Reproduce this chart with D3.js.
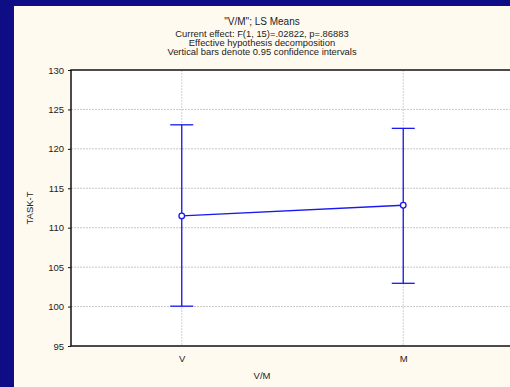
<!DOCTYPE html>
<html>
<head>
<meta charset="utf-8">
<title>V/M LS Means</title>
<script src="https://d3js.org/d3.v7.min.js"></script>
<style>
  body { margin: 0; background: #0f0d86; }
  text { font-family: Arial, "Liberation Sans", sans-serif; fill: #222; }
</style>
</head>
<body>
<svg id="chart" width="510" height="387"></svg>
<script>
// data
var categories = ["V", "M"];
var means = [111.5, 112.85];
var ciLow = [100.05, 102.95];
var ciHigh = [123.05, 122.6];
var yTicks = [95, 100, 105, 110, 115, 120, 125, 130];
var titleLines = [
  "\"V/M\"; LS Means",
  "Current effect: F(1, 15)=.02822, p=.86883",
  "Effective hypothesis decomposition",
  "Vertical bars denote 0.95 confidence intervals"
];

var svg = d3.select("#chart");

// cream panel
svg.append("rect")
  .attr("x", 14).attr("y", 6)
  .attr("width", 496).attr("height", 381)
  .attr("fill", "#fffaf0");

var pLeft = 71, pTop = 70, pRight = 514, pBottom = 346;

var x = d3.scalePoint()
  .domain(categories)
  .range([pLeft, pRight])
  .padding(0.5);

var y = d3.scaleLinear()
  .domain([95, 130])
  .range([pBottom, pTop]);

// plot area
svg.append("rect")
  .attr("x", pLeft).attr("y", pTop)
  .attr("width", pRight - pLeft).attr("height", pBottom - pTop)
  .attr("fill", "#fff");

// grid
svg.append("g")
  .selectAll("line")
  .data(yTicks.filter(function(d) { return d > 95 && d < 130; }))
  .enter().append("line")
    .attr("x1", pLeft).attr("x2", pRight)
    .attr("y1", function(d) { return y(d); })
    .attr("y2", function(d) { return y(d); })
    .attr("stroke", "#c8c8c8")
    .attr("stroke-dasharray", "2,1");

svg.append("g")
  .selectAll("line")
  .data(categories)
  .enter().append("line")
    .attr("x1", function(d) { return x(d); })
    .attr("x2", function(d) { return x(d); })
    .attr("y1", pTop).attr("y2", pBottom)
    .attr("stroke", "#d0d0d0")
    .attr("stroke-dasharray", "2,1");

// axes
var yAxis = svg.append("g")
  .attr("transform", "translate(" + pLeft + ",0)")
  .call(d3.axisLeft(y).tickValues(yTicks).tickSize(3).tickPadding(4));
yAxis.select(".domain").remove();
yAxis.selectAll("line").attr("stroke", "#111");
yAxis.selectAll("text").attr("font-size", 9.5).attr("font-family", "Arial").style("fill", "#222");

var xAxis = svg.append("g")
  .attr("transform", "translate(0," + pBottom + ")")
  .call(d3.axisBottom(x).tickSize(0).tickPadding(9));
xAxis.select(".domain").remove();
xAxis.selectAll("text").attr("font-size", 9.5).attr("font-family", "Arial").style("fill", "#222");

// frame
svg.append("path")
  .attr("d", "M" + pRight + "," + pTop + "H" + pLeft + "V" + pBottom + "H" + pRight)
  .attr("fill", "none")
  .attr("stroke", "#111")
  .attr("stroke-width", 1.5);

// error bars
var eb = svg.append("g").attr("stroke", "#1818f0").attr("stroke-width", 1.3);
categories.forEach(function(c, i) {
  var cx = x(c);
  eb.append("line").attr("x1", cx).attr("x2", cx)
    .attr("y1", y(ciLow[i])).attr("y2", y(ciHigh[i]));
  eb.append("line").attr("x1", cx - 11.5).attr("x2", cx + 11.5)
    .attr("y1", y(ciLow[i])).attr("y2", y(ciLow[i]));
  eb.append("line").attr("x1", cx - 11.5).attr("x2", cx + 11.5)
    .attr("y1", y(ciHigh[i])).attr("y2", y(ciHigh[i]));
});

// mean line
var line = d3.line()
  .x(function(d, i) { return x(categories[i]); })
  .y(function(d) { return y(d); });

svg.append("path")
  .datum(means)
  .attr("d", line)
  .attr("fill", "none")
  .attr("stroke", "#1818f0")
  .attr("stroke-width", 1.3);

svg.selectAll("circle.mean")
  .data(means)
  .enter().append("circle")
    .attr("class", "mean")
    .attr("cx", function(d, i) { return x(categories[i]); })
    .attr("cy", function(d) { return y(d); })
    .attr("r", 2.8)
    .attr("fill", "#fff")
    .attr("stroke", "#1818f0")
    .attr("stroke-width", 1.3);

// titles
var titleY = [25, 37, 46, 55];
var titleSize = [10, 9.4, 9.4, 9.4];
svg.selectAll("text.title")
  .data(titleLines)
  .enter().append("text")
    .attr("class", "title")
    .attr("x", 262)
    .attr("y", function(d, i) { return titleY[i]; })
    .attr("text-anchor", "middle")
    .attr("font-size", function(d, i) { return titleSize[i]; })
    .text(function(d) { return d; });

// axis titles
svg.append("text")
  .attr("x", 262).attr("y", 379)
  .attr("text-anchor", "middle")
  .attr("font-size", 9.5)
  .text("V/M");

svg.append("text")
  .attr("transform", "translate(33," + ((pTop + pBottom) / 2) + ") rotate(-90)")
  .attr("text-anchor", "middle")
  .attr("font-size", 9.5)
  .text("TASK-T");
</script>
</body>
</html>
